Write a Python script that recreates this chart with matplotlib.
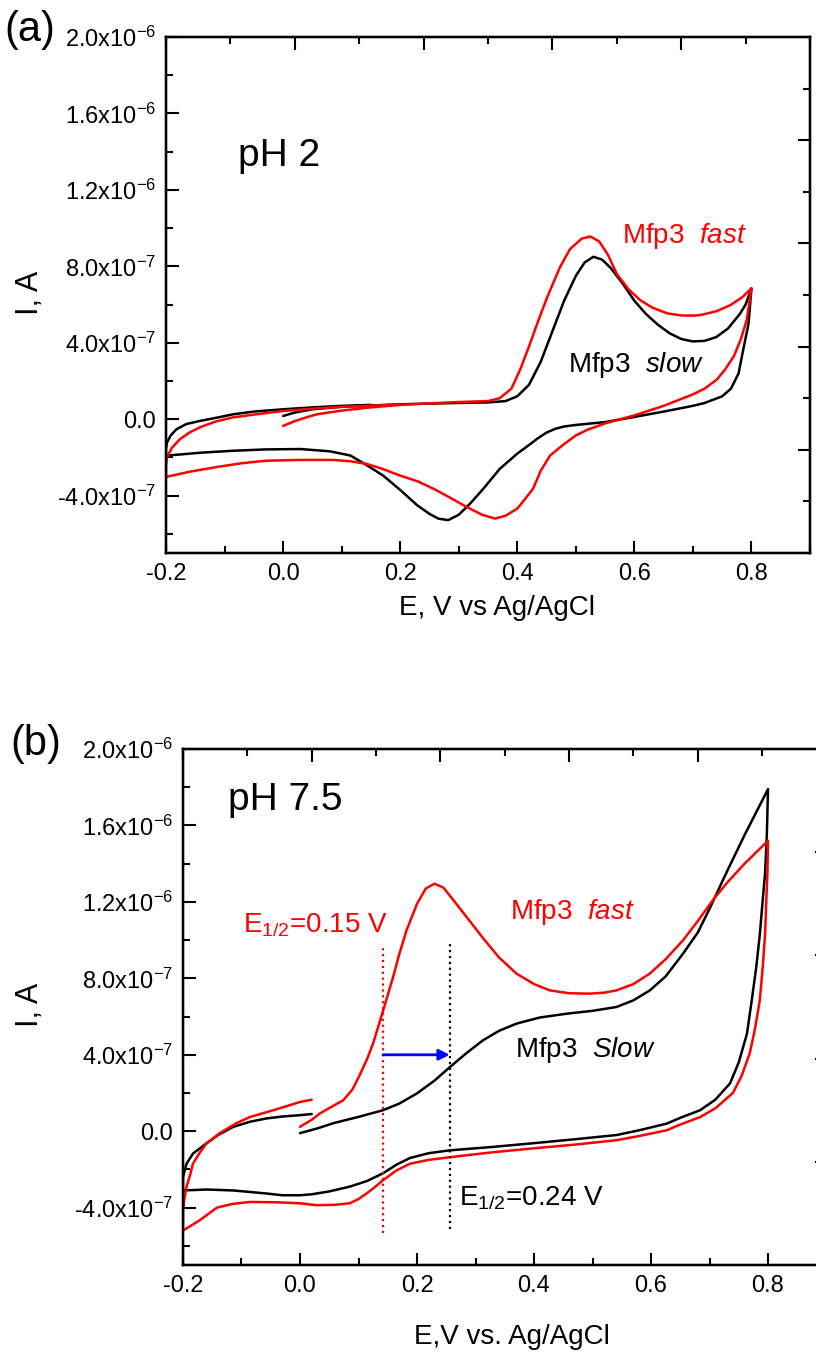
import numpy as np
import matplotlib
matplotlib.use("Agg")
import matplotlib.pyplot as plt
from matplotlib.ticker import MultipleLocator, FixedLocator, FixedFormatter

plt.rcParams['font.family'] = ['Liberation Sans', 'DejaVu Sans']
plt.rcParams['mathtext.fontset'] = 'custom'
plt.rcParams['mathtext.rm'] = 'Liberation Sans'
plt.rcParams['mathtext.it'] = 'Liberation Sans:italic'
plt.rcParams['mathtext.default'] = 'regular'

# ---- data (E in V, I in units of 1e-7 A) ----
# panel (a), pH 2
slow_a = [(0.0, 0.17), (0.02, 0.35), (0.05, 0.52), (0.1, 0.65), (0.15, 0.72), (0.2, 0.78), (0.25, 0.82),
          (0.3, 0.85), (0.35, 0.88), (0.38, 0.95), (0.40, 1.2), (0.42, 1.8), (0.44, 3.0), (0.46, 4.6),
          (0.48, 6.2), (0.50, 7.5), (0.515, 8.2), (0.53, 8.5), (0.545, 8.35), (0.56, 7.9), (0.58, 7.1),
          (0.60, 6.2), (0.62, 5.5), (0.64, 4.95), (0.66, 4.5), (0.68, 4.2), (0.70, 4.07), (0.72, 4.1),
          (0.74, 4.3), (0.76, 4.75), (0.78, 5.5), (0.79, 6.0), (0.80, 6.85),
          (0.795, 5.0), (0.787, 3.8), (0.778, 2.4), (0.765, 1.6), (0.75, 1.2), (0.72, 0.85), (0.70, 0.7),
          (0.65, 0.4), (0.60, 0.12), (0.55, -0.15), (0.50, -0.3), (0.48, -0.38), (0.465, -0.5),
          (0.45, -0.7), (0.435, -1.0), (0.42, -1.35), (0.40, -1.8), (0.37, -2.6), (0.342, -3.64),
          (0.32, -4.4), (0.30, -5.0), (0.282, -5.28), (0.265, -5.2), (0.25, -4.95), (0.229, -4.5),
          (0.2, -3.7), (0.171, -2.95), (0.14, -2.35), (0.115, -1.9), (0.08, -1.68), (0.03, -1.56),
          (-0.03, -1.58), (-0.085, -1.65), (-0.14, -1.75), (-0.197, -1.9), (-0.2, -1.95),
          (-0.2, -1.5), (-0.198, -1.2), (-0.192, -0.85), (-0.182, -0.52), (-0.165, -0.25),
          (-0.142, -0.09), (-0.11, 0.1), (-0.085, 0.26), (-0.05, 0.4), (0.0, 0.52), (0.05, 0.62),
          (0.1, 0.7), (0.15, 0.75)]
fast_a = [(0.0, -0.35), (0.02, -0.1), (0.04, 0.1), (0.058, 0.26), (0.1, 0.45), (0.143, 0.6), (0.2, 0.75),
          (0.25, 0.83), (0.3, 0.9), (0.35, 0.95), (0.37, 1.1), (0.39, 1.6), (0.405, 2.6), (0.42, 3.8),
          (0.434, 5.0), (0.45, 6.3), (0.473, 7.96), (0.49, 8.9), (0.51, 9.45), (0.525, 9.56),
          (0.54, 9.3), (0.555, 8.6), (0.57, 7.6), (0.59, 6.8), (0.61, 6.23), (0.63, 5.85), (0.656, 5.54),
          (0.68, 5.43), (0.70, 5.42), (0.713, 5.45), (0.74, 5.65), (0.764, 5.97), (0.785, 6.4),
          (0.80, 6.85),
          (0.792, 5.2), (0.782, 4.2), (0.77, 3.3), (0.755, 2.6), (0.741, 2.08), (0.72, 1.6), (0.70, 1.3),
          (0.65, 0.7), (0.60, 0.2), (0.55, -0.22), (0.52, -0.55), (0.50, -0.85), (0.48, -1.3),
          (0.456, -1.9), (0.44, -2.7), (0.427, -3.64), (0.41, -4.3), (0.40, -4.68), (0.38, -5.05),
          (0.362, -5.2), (0.34, -5.0), (0.314, -4.6), (0.285, -4.1), (0.257, -3.64), (0.23, -3.25),
          (0.2, -2.95), (0.17, -2.6), (0.143, -2.34), (0.115, -2.2), (0.086, -2.13), (0.03, -2.13),
          (-0.028, -2.17), (-0.07, -2.3), (-0.113, -2.5), (-0.16, -2.75), (-0.197, -3.0), (-0.2, -3.02),
          (-0.2, -2.4), (-0.198, -1.97), (-0.19, -1.5), (-0.176, -1.04), (-0.16, -0.7), (-0.142, -0.42),
          (-0.115, -0.12), (-0.085, 0.1), (-0.04, 0.28), (0.0, 0.43), (0.05, 0.55), (0.1, 0.65),
          (0.143, 0.7), (0.2, 0.77)]

# panel (b), pH 7.5
slow_b = [(0.0, -0.1), (0.03, 0.15), (0.057, 0.42), (0.1, 0.75), (0.142, 1.1), (0.17, 1.45), (0.2, 1.98),
          (0.23, 2.65), (0.256, 3.35), (0.285, 4.1), (0.313, 4.76), (0.34, 5.25), (0.37, 5.63),
          (0.41, 5.95), (0.456, 6.15), (0.5, 6.3), (0.541, 6.5), (0.57, 6.85), (0.598, 7.37),
          (0.625, 8.1), (0.655, 9.3), (0.68, 10.4), (0.701, 11.7), (0.73, 13.6), (0.76, 15.5),
          (0.78, 16.7), (0.80, 17.9),
          (0.798, 15.5), (0.795, 13.5), (0.791, 12.1), (0.786, 10.3), (0.78, 8.6), (0.772, 6.8),
          (0.764, 5.1), (0.75, 3.6), (0.735, 2.5), (0.71, 1.65), (0.684, 1.1), (0.65, 0.7), (0.627, 0.4),
          (0.58, 0.05), (0.541, -0.2), (0.47, -0.42), (0.398, -0.63), (0.33, -0.82), (0.256, -1.0),
          (0.22, -1.15), (0.188, -1.4), (0.165, -1.75), (0.142, -2.2), (0.115, -2.6), (0.085, -2.9),
          (0.05, -3.15), (0.02, -3.3), (0.0, -3.35), (-0.03, -3.35), (-0.06, -3.25), (-0.114, -3.1),
          (-0.16, -3.05), (-0.2, -3.1),
          (-0.2, -2.4), (-0.194, -1.7), (-0.183, -1.17), (-0.16, -0.64), (-0.14, -0.2), (-0.114, 0.23),
          (-0.085, 0.5), (-0.057, 0.67), (-0.03, 0.77), (0.0, 0.84), (0.02, 0.9)]
fast_b = [(0.0, 0.23), (0.02, 0.6), (0.034, 0.93), (0.055, 1.3), (0.074, 1.62), (0.09, 2.2), (0.103, 3.0),
          (0.115, 3.8), (0.125, 4.6), (0.142, 6.3), (0.159, 8.05), (0.17, 9.3), (0.182, 10.5),
          (0.2, 11.9), (0.215, 12.7), (0.23, 12.95), (0.245, 12.75), (0.262, 12.1), (0.285, 11.2),
          (0.313, 10.1), (0.34, 9.1), (0.37, 8.25), (0.4, 7.7), (0.427, 7.37), (0.46, 7.22),
          (0.496, 7.2), (0.52, 7.25), (0.541, 7.37), (0.57, 7.7), (0.598, 8.25), (0.625, 9.0),
          (0.655, 10.0), (0.68, 11.0), (0.706, 12.1), (0.73, 13.0), (0.76, 14.0), (0.78, 14.6),
          (0.80, 15.2),
          (0.799, 13.5), (0.797, 12.0), (0.795, 10.3), (0.791, 8.6), (0.786, 6.85), (0.778, 5.4),
          (0.769, 4.1), (0.755, 2.9), (0.74, 2.0), (0.71, 1.2), (0.684, 0.74), (0.65, 0.35),
          (0.627, 0.05), (0.58, -0.25), (0.541, -0.47), (0.47, -0.7), (0.398, -0.9), (0.33, -1.1),
          (0.256, -1.36), (0.22, -1.5), (0.188, -1.7), (0.165, -2.05), (0.142, -2.56), (0.125, -3.0),
          (0.114, -3.25), (0.1, -3.55), (0.085, -3.77), (0.06, -3.85), (0.028, -3.87), (0.0, -3.77),
          (-0.04, -3.72), (-0.085, -3.7), (-0.115, -3.8), (-0.142, -4.0), (-0.171, -4.65), (-0.2, -5.2),
          (-0.2, -4.2), (-0.198, -3.6), (-0.194, -2.9), (-0.188, -2.3), (-0.183, -1.7), (-0.172, -1.15),
          (-0.16, -0.64), (-0.137, -0.1), (-0.11, 0.4), (-0.085, 0.75), (-0.04, 1.15), (0.0, 1.53),
          (0.02, 1.65)]

# E1/2 markers in panel (b)
e_half_fast = 0.142
e_half_slow = 0.256
e_half_fast_span = (-5.3, 9.6)
e_half_slow_span = (-5.1, 9.8)
arrow_level = 4.0

y_ticks = [-4e-7, 0.0, 4e-7, 8e-7, 1.2e-6, 1.6e-6, 2.0e-6]
y_labels = ['-4.0x10$^{-7}$', '0.0', '4.0x10$^{-7}$', '8.0x10$^{-7}$',
            '1.2x10$^{-6}$', '1.6x10$^{-6}$', '2.0x10$^{-6}$']
x_ticks = [-0.2, 0.0, 0.2, 0.4, 0.6, 0.8]
x_labels = ['-0.2', '0.0', '0.2', '0.4', '0.6', '0.8']

W, H = 816, 1355
fig = plt.figure(figsize=(W / 100, H / 100), dpi=100)


def px_axes(left, top, right, bottom):
    return fig.add_axes([left / W, 1 - bottom / H, (right - left) / W, (bottom - top) / H])


def style(ax):
    ax.set_xlim(-0.2, 0.9)
    ax.set_ylim(-7e-7, 2e-6)
    ax.xaxis.set_major_locator(FixedLocator(x_ticks))
    ax.xaxis.set_major_formatter(FixedFormatter(x_labels))
    ax.xaxis.set_minor_locator(MultipleLocator(0.1))
    ax.yaxis.set_major_locator(FixedLocator(y_ticks))
    ax.yaxis.set_major_formatter(FixedFormatter(y_labels))
    ax.yaxis.set_minor_locator(MultipleLocator(2e-7))
    ax.tick_params(which='both', direction='in', width=1.5, labelsize=17)
    ax.tick_params(which='major', length=9)
    ax.tick_params(which='minor', length=5)
    ax.tick_params(axis='x', pad=7)
    ax.tick_params(axis='y', pad=7)
    for s in ax.spines.values():
        s.set_linewidth(1.6)
    # top / right axes carry their own unlabeled tick scale
    top = ax.twiny()
    top.set_xlim(0, 5)
    top.xaxis.set_major_locator(FixedLocator([1, 2, 3, 4]))
    top.xaxis.set_minor_locator(MultipleLocator(0.5))
    top.tick_params(which='both', direction='in', width=1.5, labeltop=False)
    top.tick_params(which='major', length=9)
    top.tick_params(which='minor', length=5)
    right = ax.twinx()
    right.set_ylim(0, 5)
    right.yaxis.set_major_locator(FixedLocator([1, 2, 3, 4]))
    right.yaxis.set_minor_locator(MultipleLocator(0.5))
    right.tick_params(which='both', direction='in', width=1.5, labelright=False)
    right.tick_params(which='major', length=9)
    right.tick_params(which='minor', length=5)
    for a in (top, right):
        for s in a.spines.values():
            s.set_linewidth(1.6)


def curve(ax, pts, color):
    e, i = np.array(pts).T
    ax.plot(e, i * 1e-7, color=color, lw=1.8, solid_joinstyle='round', solid_capstyle='round')


# ---- panel (a) ----
ax1 = px_axes(166, 37, 810, 553)
curve(ax1, slow_a, 'black')
curve(ax1, fast_a, '#ff0000')
ax1.text(-0.077, 13.25e-7, 'pH 2', fontsize=28, va='baseline')
ax1.text(0.579, 9.6e-7, 'Mfp3  $\\mathit{fast}$', fontsize=20, color='#ff0000', va='center')
ax1.text(0.487, 2.86e-7, 'Mfp3  $\\mathit{slow}$', fontsize=20, color='black', va='center')
style(ax1)
fig.text(30 / W, 1 - 293 / H, 'I, A', rotation=90, fontsize=22, ha='center', va='center')
fig.text(497 / W, 1 - 608 / H, 'E, V vs Ag/AgCl', fontsize=20, ha='center', va='center')
fig.text(4 / W, 1 - 30 / H, '(a)', fontsize=30, ha='left', va='center')

# ---- panel (b) ----
ax2 = px_axes(183, 749, 826.5, 1265)
curve(ax2, slow_b, 'black')
curve(ax2, fast_b, '#ff0000')
ax2.plot([e_half_fast, e_half_fast], np.array(e_half_fast_span) * 1e-7, color='#ff0000', ls=':', lw=1.6)
ax2.plot([e_half_slow, e_half_slow], np.array(e_half_slow_span) * 1e-7, color='black', ls=':', lw=1.6)
ax2.annotate('', xy=(e_half_slow, arrow_level * 1e-7), xytext=(e_half_fast, arrow_level * 1e-7),
             arrowprops=dict(arrowstyle='-|>', color='#0000ff', lw=2, mutation_scale=16,
                             shrinkA=0, shrinkB=0))
ax2.text(-0.123, 16.8e-7, 'pH 7.5', fontsize=28, va='baseline')
ax2.text(0.359, 11.45e-7, 'Mfp3  $\\mathit{fast}$', fontsize=20, color='#ff0000', va='center')
ax2.text(0.150, 10.8e-7, 'E$_{1/2}$=0.15 V', fontsize=20, color='#ff0000', va='center', ha='right')
ax2.text(0.368, 4.24e-7, 'Mfp3  $\\mathit{Slow}$', fontsize=20, color='black', va='center')
ax2.text(0.272, -3.5e-7, 'E$_{1/2}$=0.24 V', fontsize=20, color='black', va='center')
style(ax2)
fig.text(30 / W, 1 - 1005 / H, 'I, A', rotation=90, fontsize=22, ha='center', va='center')
fig.text(512 / W, 1 - 1337 / H, 'E,V vs. Ag/AgCl', fontsize=20, ha='center', va='center')
fig.text(10 / W, 1 - 744 / H, '(b)', fontsize=30, ha='left', va='center')

fig.savefig('out.png', dpi=100)
